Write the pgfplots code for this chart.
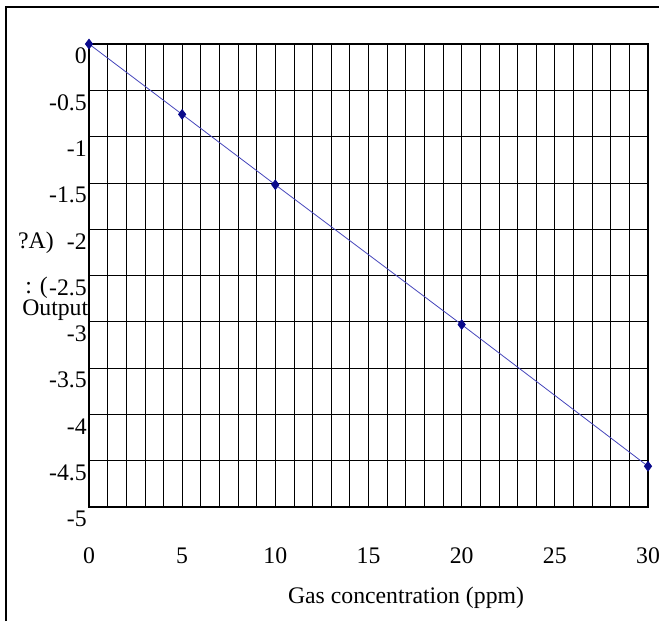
\documentclass[border=0pt]{standalone}
\usepackage{pgfplots}
\pgfplotsset{compat=1.18}
\usepackage{fontspec}
\setmainfont{Liberation Serif}
\definecolor{lineBlue}{HTML}{4444BB}
\definecolor{markNavy}{HTML}{0A0A8C}
\begin{document}
\fontsize{17.8}{20}\selectfont
\begin{tikzpicture}[x=0.75pt,y=0.75pt]
\useasboundingbox (0,0) rectangle (659,621);
% outer frame (cut off on the right and bottom)
\draw[line width=1.3pt] (6,0) -- (6,614) -- (660,614);

\begin{axis}[
  at={(66.75pt,85.5pt)}, anchor=south west,
  scale only axis,
  width=419.25pt, height=347.25pt,
  xmin=0, xmax=30, ymin=-5, ymax=0,
  xtick={0,5,...,30},
  minor xtick={0,1,...,30},
  ytick={0,-0.5,-1,-1.5,-2,-2.5,-3,-3.5,-4,-4.5,-5},
  yticklabels={0,-0.5,-1,-1.5,-2,-2.5,-3,-3.5,-4,-4.5,-5},
  grid=both,
  major grid style={black, line width=0.6pt},
  minor grid style={black, line width=0.6pt},
  axis line style={black, line width=0.8pt},
  major tick length=0pt, minor tick length=0pt,
  tick label style={font=\fontsize{17.8}{20}\selectfont},
  xticklabel style={anchor=north, inner sep=0pt, yshift=-30.5pt},
  yticklabel style={anchor=east, inner sep=0pt, xshift=-1.5pt, yshift=-9pt},
  /pgf/number format/assume math mode=true,
  clip=false,
]
\addplot[color=lineBlue, line width=0.6pt, mark=diamond*, mark size=3.6pt,
  mark options={fill=markNavy, draw=markNavy}]
  coordinates {(0,0)(5,-0.76)(10,-1.52)(20,-3.03)(30,-4.56)};
\end{axis}

\node at (406,23) {Gas concentration (ppm)};
\node[anchor=east, inner sep=0pt] at (54,378) {?A)};
\node[anchor=west, inner sep=0pt] at (25,333) {: (};
\node[anchor=west, inner sep=0pt] at (22,311) {Output};
\end{tikzpicture}
\end{document}
